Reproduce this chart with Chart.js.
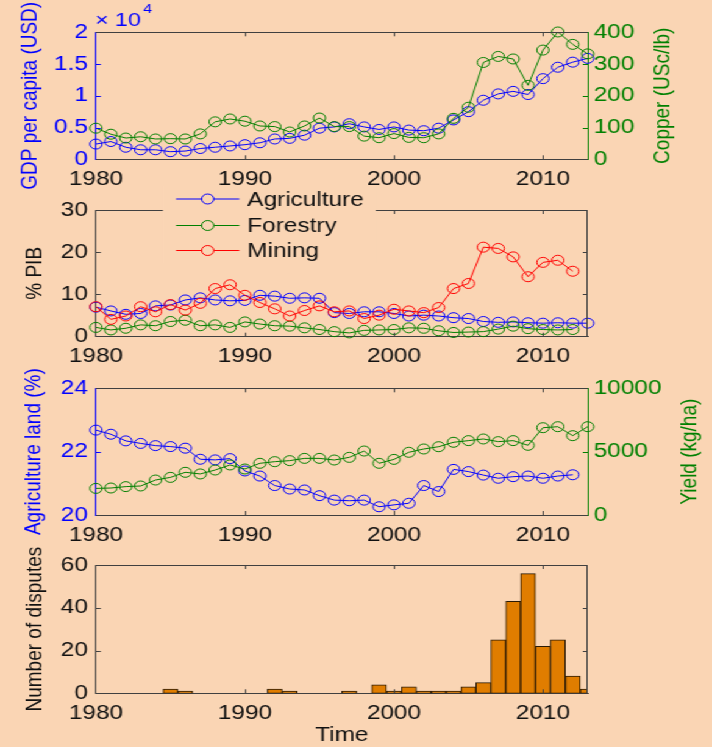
<!DOCTYPE html>
<html>
<head>
<meta charset="utf-8">
<script src="https://cdn.jsdelivr.net/npm/chart.js@4.4.1/dist/chart.umd.min.js"></script>
<style>
  html, body { margin: 0; padding: 0; background: #fad5b4; overflow: hidden; }
  /* the reference figure is stretched horizontally, so the page is drawn narrow and widened */
  #page { position: relative; width: 584px; height: 747px; transform: scaleX(1.2192); transform-origin: 0 0; }
  #page canvas { position: absolute; left: 0; top: 0; }
</style>
</head>
<body>
<div id="page">
  <canvas id="gdp" width="584" height="747"></canvas>
  <canvas id="pib" width="584" height="747"></canvas>
  <canvas id="land" width="584" height="747"></canvas>
  <canvas id="disputes" width="584" height="747"></canvas>
</div>
<script>
// ---- data ----
const years = [1980, 1981, 1982, 1983, 1984, 1985, 1986, 1987, 1988, 1989,
  1990, 1991, 1992, 1993, 1994, 1995, 1996, 1997, 1998, 1999,
  2000, 2001, 2002, 2003, 2004, 2005, 2006, 2007, 2008, 2009,
  2010, 2011, 2012, 2013];

const gdpPerCapita = [2400, 2800, 1900, 1500, 1500, 1200, 1300, 1700, 1900, 2100,
  2300, 2600, 3200, 3300, 3800, 4900, 5100, 5600, 5100, 4700,
  5100, 4600, 4500, 4900, 6200, 7500, 9300, 10300, 10700, 10200,
  12700, 14500, 15300, 15900];
const copperPrice = [98, 79, 67, 71, 64, 65, 64, 80, 118, 127,
  120, 105, 103, 86, 105, 130, 103, 103, 73, 68,
  81, 69, 68, 80, 129, 164, 305, 324, 316, 233,
  344, 401, 362, 332];

const pibAgriculture = [7.0, 6.1, 5.3, 5.5, 7.3, 7.5, 8.7, 9.2, 8.7, 8.5,
  8.6, 9.8, 9.6, 9.1, 9.2, 9.1, 5.7, 5.5, 5.9, 5.9,
  5.5, 4.9, 5.1, 4.9, 4.5, 4.3, 3.6, 3.4, 3.5, 3.3,
  3.2, 3.3, 3.2, 3.2];
const pibForestry = [2.2, 1.6, 2.0, 2.8, 2.6, 3.6, 3.9, 2.6, 2.8, 2.2,
  3.5, 3.0, 2.6, 2.5, 2.1, 1.7, 1.2, 0.9, 1.5, 1.6,
  1.7, 2.1, 2.0, 1.4, 1.0, 1.1, 1.2, 1.8, 2.5, 1.9,
  1.7, 1.6, 1.7];
const pibMining = [7.1, 4.1, 4.9, 7.1, 5.9, 7.6, 6.3, 7.9, 11.4, 12.3,
  9.8, 8.1, 6.6, 4.9, 6.2, 7.3, 5.9, 6.1, 4.3, 5.1,
  6.5, 6.1, 5.7, 6.9, 11.4, 12.6, 21.2, 20.9, 18.9, 14.2,
  17.6, 18.1, 15.5];

const agricultureLand = [22.68, 22.55, 22.34, 22.26, 22.19, 22.16, 22.11, 21.76, 21.74, 21.78,
  21.39, 21.23, 20.93, 20.82, 20.79, 20.61, 20.47, 20.45, 20.47, 20.26,
  20.32, 20.37, 20.93, 20.74, 21.44, 21.37, 21.26, 21.16, 21.21, 21.23,
  21.16, 21.23, 21.27];
const yieldKgHa = [2100, 2130, 2240, 2290, 2760, 2970, 3370, 3240, 3550, 3950,
  3630, 4080, 4210, 4290, 4470, 4470, 4340, 4550, 5050, 4080,
  4390, 4950, 5210, 5390, 5740, 5870, 6000, 5790, 5870, 5500,
  6890, 6970, 6260, 6970];

const disputes = [0, 0, 0, 0, 0, 2, 1, 0, 0, 0,
  0, 0, 2, 1, 0, 0, 0, 1, 0, 4,
  1, 3, 1, 1, 1, 3, 5, 25, 43, 56,
  22, 25, 8, 2];

const xTicks = [1980, 1990, 2000, 2010];

// ---- look ----
const BG = '#fad5b4';
const BLUE = '#0000ff', GREEN = '#008000', RED = '#ff0000';
const INK = '#111111', BOX = '#404040';
const BAR = '#e07d00', BAR_EDGE = '#2a1a05';
const FONT = "'Liberation Sans', Arial, sans-serif";
const W = 584, H = 747;
const PLOT_L = 78.7, PLOT_R = 482;

Chart.defaults.font.family = FONT;
Chart.defaults.font.size = 20;
Chart.defaults.color = INK;

const pts = vals => vals.map((v, i) => ({ x: years[i], y: v }));

function line(label, vals, color, yAxisID, order) {
  return {
    type: 'line', label, data: pts(vals), yAxisID, order,
    borderColor: color, borderWidth: 1, tension: 0, fill: false,
    pointRadius: 5, pointBorderWidth: 1, pointBorderColor: color,
    pointBackgroundColor: 'rgba(0,0,0,0)', clip: false
  };
}

function xAxis(h, title) {
  return {
    type: 'linear', min: 1980, max: 2013, offset: false,
    grid: { display: false, drawTicks: false },
    border: { display: true, color: BOX, width: 1 },
    afterBuildTicks: s => { s.ticks = xTicks.map(v => ({ value: v })); },
    ticks: { padding: 8, color: INK, maxRotation: 0, autoSkip: false, callback: v => String(v) },
    title: title ? { display: true, text: title, color: INK, font: { size: 20 }, padding: { top: 0, bottom: 0 } }
                 : { display: false },
    afterFit: s => { s.height = h; }
  };
}

function yAxis(pos, min, max, step, color, textColor, title, titlePad, fmt) {
  return {
    type: 'linear', position: pos, min, max,
    grid: { display: false, drawTicks: false },
    border: { display: true, color, width: 1 },
    ticks: { stepSize: step, color: textColor, padding: pos === 'left' ? 6.6 : 5, callback: fmt || (v => String(v)) },
    title: title ? { display: true, text: title, color: textColor, font: { size: 19 }, padding: { top: titlePad, bottom: 0 } }
                 : { display: false },
    afterFit: s => { s.width = pos === 'left' ? PLOT_L : W - PLOT_R; }
  };
}

// MATLAB-like box: top/right edges, inward ticks, right label, exponent, legend
const frame = {
  id: 'frame',
  afterDraw(chart, args, o) {
    const { ctx, chartArea: a, scales } = chart;
    const x = scales.x, yl = scales.y, yr = scales.y2;
    const T = 4;
    ctx.save();
    ctx.lineWidth = 1;
    ctx.strokeStyle = BOX;
    ctx.beginPath();
    ctx.moveTo(a.left, Math.round(a.top) + 0.5);
    ctx.lineTo(a.right, Math.round(a.top) + 0.5);
    if (!yr) {
      ctx.moveTo(Math.round(a.right) - 0.5, a.top);
      ctx.lineTo(Math.round(a.right) - 0.5, a.bottom);
    }
    x.ticks.forEach(t => {
      const p = Math.round(x.getPixelForValue(t.value)) + 0.5;
      if (p <= a.left + 1 || p >= a.right - 1) return;
      ctx.moveTo(p, a.bottom); ctx.lineTo(p, a.bottom - T);
      ctx.moveTo(p, a.top); ctx.lineTo(p, a.top + T);
    });
    ctx.stroke();

    const yTicks = (sc, left, color) => {
      ctx.strokeStyle = color;
      ctx.beginPath();
      sc.ticks.forEach(t => {
        const p = Math.round(sc.getPixelForValue(t.value)) + 0.5;
        if (p <= a.top + 1 || p >= a.bottom - 1) return;
        const e = left ? a.left : a.right;
        ctx.moveTo(e, p); ctx.lineTo(e + (left ? T : -T), p);
      });
      ctx.stroke();
    };
    yTicks(yl, true, o.leftColor || BOX);
    yTicks(yr || yl, false, o.rightColor || BOX);

    if (o.rightTitle) {
      ctx.save();
      ctx.translate(o.rightTitleX, (a.top + a.bottom) / 2);
      ctx.rotate(-Math.PI / 2);
      ctx.font = '19px ' + FONT;
      ctx.fillStyle = o.rightColor;
      ctx.textAlign = 'center';
      ctx.textBaseline = 'middle';
      ctx.fillText(o.rightTitle, 0, 0);
      ctx.restore();
    }

    if (o.exponent) {
      ctx.fillStyle = BLUE;
      ctx.textBaseline = 'alphabetic';
      ctx.font = '19px ' + FONT;
      ctx.fillText('\u00d7 10', 78, 26);
      const w = ctx.measureText('\u00d7 10').width;
      ctx.font = '13px ' + FONT;
      ctx.fillText(o.exponent, 78 + w + 2, 13);
    }

    if (o.legend) {
      const L = o.legend;
      ctx.fillStyle = BG;
      ctx.fillRect(L.x0, L.y0, L.x1 - L.x0, L.y1 - L.y0);
      ctx.font = '20px ' + FONT;
      ctx.textBaseline = 'middle';
      ctx.textAlign = 'left';
      chart.data.datasets.forEach((d, i) => {
        const y = L.rowY[i];
        ctx.strokeStyle = d.borderColor;
        ctx.beginPath();
        ctx.moveTo(L.lineX0, y); ctx.lineTo(L.lineX1, y);
        ctx.stroke();
        ctx.beginPath();
        ctx.fillStyle = BG;
        ctx.arc((L.lineX0 + L.lineX1) / 2, y, 5, 0, Math.PI * 2);
        ctx.fill();
        ctx.stroke();
        ctx.fillStyle = INK;
        ctx.fillText(d.label, L.textX, y + 1);
      });
    }
    ctx.restore();
  }
};

function baseOptions(top, bottom, xH, scales, frameOpts, rightPad) {
  return {
    responsive: false, animation: false,
    layout: { padding: { top, bottom: H - bottom - xH, left: 0, right: rightPad } },
    scales,
    plugins: { legend: { display: false }, tooltip: { enabled: false }, frame: frameOpts }
  };
}

// ---- panel 1: GDP per capita and copper price ----
new Chart(document.getElementById('gdp'), {
  type: 'line',
  data: { datasets: [
    line('GDP per capita', gdpPerCapita, BLUE, 'y', 2),
    line('Copper', copperPrice, GREEN, 'y2', 1)
  ] },
  options: baseOptions(32.3, 159.3, 30, {
    x: xAxis(30),
    y: yAxis('left', 0, 20000, 5000, BLUE, BLUE, 'GDP per capita (USD)', 13.6, v => String(v / 10000)),
    y2: yAxis('right', 0, 400, 100, GREEN, GREEN)
  }, { leftColor: BLUE, rightColor: GREEN, rightTitle: 'Copper (USc/lb)', rightTitleX: 543.8, exponent: '4' }, 0),
  plugins: [frame]
});

// ---- panel 2: share of GDP ----
new Chart(document.getElementById('pib'), {
  type: 'line',
  data: { datasets: [
    line('Agriculture', pibAgriculture, BLUE, 'y', 3),
    line('Forestry', pibForestry, GREEN, 'y', 2),
    line('Mining', pibMining, RED, 'y', 1)
  ] },
  options: baseOptions(210, 336.7, 30, {
    x: xAxis(30),
    y: yAxis('left', 0, 30, 10, BOX, INK, '% PIB', 17.3)
  }, {
    legend: { x0: 133.6, x1: 308.2, y0: 186, y1: 263, lineX0: 144.4, lineX1: 196.3, textX: 202.8, rowY: [199, 225.5, 250.5] }
  }, W - PLOT_R),
  plugins: [frame]
});

// ---- panel 3: agricultural land and yield ----
new Chart(document.getElementById('land'), {
  type: 'line',
  data: { datasets: [
    line('Agriculture land', agricultureLand, BLUE, 'y', 2),
    line('Yield', yieldKgHa, GREEN, 'y2', 1)
  ] },
  options: baseOptions(388.3, 515, 30, {
    x: xAxis(30),
    y: yAxis('left', 20, 24, 2, BLUE, BLUE, 'Agriculture land (%)', 16.5),
    y2: yAxis('right', 0, 10000, 5000, GREEN, GREEN)
  }, { leftColor: BLUE, rightColor: GREEN, rightTitle: 'Yield (kg/ha)', rightTitleX: 566 }, 0),
  plugins: [frame]
});

// ---- panel 4: number of disputes per year ----
new Chart(document.getElementById('disputes'), {
  type: 'bar',
  data: { datasets: [{
    label: 'Number of disputes', data: pts(disputes),
    backgroundColor: BAR, borderColor: BAR_EDGE, borderWidth: 1, borderSkipped: false,
    barPercentage: 1, categoryPercentage: 1, clip: 0
  }] },
  options: baseOptions(565, 693.3, 53.7, {
    x: xAxis(53.7, 'Time'),
    y: yAxis('left', 0, 60, 20, BOX, INK, 'Number of disputes', 17.3)
  }, {}, W - PLOT_R),
  plugins: [frame]
});
</script>
</body>
</html>
